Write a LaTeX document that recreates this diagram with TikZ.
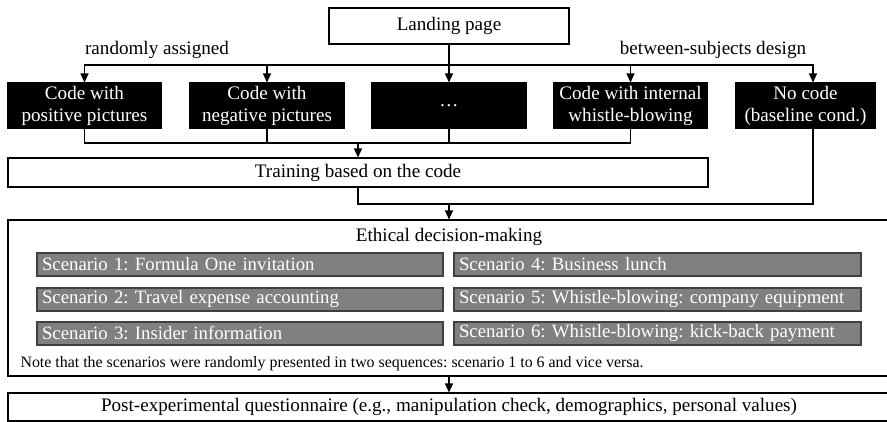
\documentclass[tikz,border=0pt]{standalone}
\usepackage{fontspec}
\setmainfont{Liberation Serif}
\usetikzlibrary{arrows.meta}
\frenchspacing
\begin{document}
\begin{tikzpicture}[x=1pt,y=-1pt,
  line width=1.1pt,
  arr/.style={-{Triangle[width=8pt,length=9pt]}},
  mainfont/.style={font=\fontsize{19.1}{22}\selectfont\frenchspacing},
  wbox/.style={draw, fill=white, inner sep=0pt, mainfont},
  bbox/.style={draw, fill=black, text=white, inner sep=0pt, align=center, minimum height=45pt, mainfont},
  sbox/.style={draw=black!75, fill=black!50, text=white, inner xsep=5pt, inner ysep=0pt, minimum height=23pt, align=left, font=\fontsize{18.8}{22}\selectfont\frenchspacing},
  lbl/.style={inner sep=0pt, mainfont},
]
\clip (0,0) rectangle (887,421);
\fill[white] (0,0) rectangle (887,421);

% top
\node[wbox, minimum width=240pt, minimum height=36pt] (land) at (449,26) {Landing page};
\node[lbl] (lr) at (157,50) {randomly assigned};
\node[lbl] (lb) at (713,50) {between-subjects design};

\node[bbox, minimum width=153pt] (b1) at (84.5,105.5) {Code with\\positive pictures};
\node[bbox, minimum width=154pt] (b2) at (267,105.5) {Code with\\negative pictures};
\node[bbox, minimum width=154pt] (b3) at (449,105.5) {\dots};
\node[bbox, minimum width=153pt] (b4) at (630.5,105.5) {Code with internal\\whistle-blowing};
\node[bbox, minimum width=139pt] (b5) at (805.5,105.5) {No code\\(baseline cond.)};

\coordinate (split) at (449,65);
\draw (land.south) -- (split);
\foreach \b in {b1,b2,b3,b4} {\draw[arr] (split) -| (\b.north);}
\draw[arr] (split) -| ([xshift=7.5pt]b5.north);

% training
\node[wbox, minimum width=700pt, minimum height=29pt] (train) at (358,172.5) {Training based on the code};
\coordinate (merge) at (358,143);
\foreach \b in {b1,b2,b3,b4} {\draw (\b.south) |- (merge);}
\draw[arr] (merge) -- (train.north);

% ethical
\node[draw, minimum width=882pt, minimum height=156pt, inner sep=0pt] (eth) at (449,298) {};
\coordinate (join) at (449,204);
\draw (train.south) |- (join);
\draw ([xshift=7.5pt]b5.south) |- (join);
\draw[arr] (join) -- (eth.north);

\node[lbl] (title) at (449,237) {Ethical decision-making};
\node[sbox, text width=396pt] (s1) at (240,264.5) {Scenario 1: Formula One invitation};
\node[sbox, text width=396pt] (s2) at (240,299.5) {Scenario 2: Travel expense accounting};
\node[sbox, text width=396pt] (s3) at (240,333.5) {Scenario 3: Insider information};
\node[sbox, text width=397pt] (s4) at (657.5,264.5) {Scenario 4: Business lunch};
\node[sbox, text width=397pt] (s5) at (657.5,299.5) {Scenario 5: Whistle-blowing: company equipment};
\node[sbox, text width=397pt] (s6) at (657.5,333.5) {Scenario 6: Whistle-blowing: kick-back payment};
\node[inner sep=0pt, anchor=west, font=\fontsize{15.9}{18}\selectfont\frenchspacing] (note) at (20,363.5) {Note that the scenarios were randomly presented in two sequences: scenario 1 to 6 and vice versa.};

% post
\node[wbox, minimum width=882pt, minimum height=28pt] (post) at (449,407) {Post-experimental questionnaire (e.g., manipulation check, demographics, personal values)};
\draw[arr] (eth.south) -- (post.north);
\end{tikzpicture}
\end{document}
